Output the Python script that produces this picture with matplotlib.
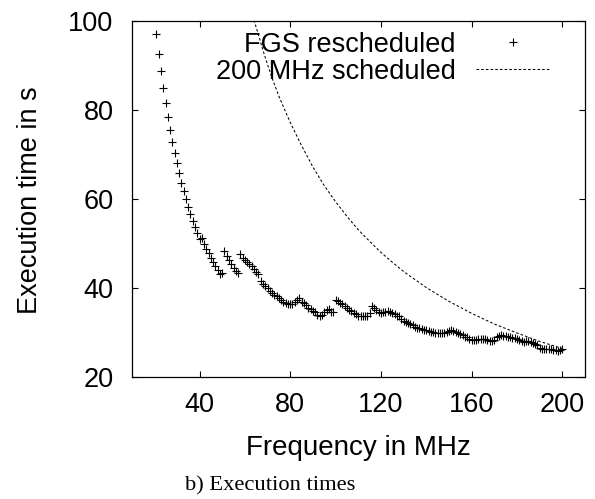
import numpy as np
import matplotlib
matplotlib.use("Agg")
import matplotlib.pyplot as plt

# ─── DATA ───────────────────────────────────────────────────────────────────
# FGS rescheduled: one point per MHz, 21..200
freq_fgs = np.arange(21, 201)
time_fgs = [
    97.1, 92.6, 88.8, 85.0, 81.6, 78.5, 75.5, 72.8, 70.3, 68.0,   # 21-30
    65.8, 63.7, 61.8, 60.0, 58.2, 56.6, 55.1, 53.6, 52.3, 51.0,   # 31-40
    51.3, 49.9, 48.8, 47.8, 46.8, 45.8, 44.9, 44.0, 43.2, 43.4,   # 41-50
    48.3, 47.3, 46.3, 45.4, 44.6, 43.8, 43.3, 47.6, 46.8, 46.3,   # 51-60
    45.9, 45.5, 45.0, 44.3, 43.7, 43.1, 41.6, 40.9, 40.4, 40.0,   # 61-70
    39.4, 38.9, 38.4, 38.1, 37.7, 37.3, 36.9, 36.6, 36.5, 36.3,   # 71-80
    36.5, 36.9, 37.4, 37.7, 36.9, 36.6, 36.2, 35.6, 35.2, 34.9,   # 81-90
    34.5, 34.0, 33.7, 33.9, 34.5, 35.0, 35.2, 34.7, 34.6, 37.4,   # 91-100
    37.1, 36.7, 36.3, 35.9, 35.4, 35.1, 34.8, 34.4, 34.1, 33.8,   # 101-110
    33.6, 33.6, 33.6, 33.8, 34.4, 36.0, 35.4, 35.1, 34.7, 34.3,   # 111-120
    34.5, 34.7, 34.8, 34.6, 34.4, 34.1, 33.8, 33.6, 33.1, 32.6,   # 121-130
    32.4, 32.1, 31.8, 31.6, 31.3, 31.0, 30.9, 30.7, 30.6, 30.5,   # 131-140
    30.3, 30.2, 30.1, 30.0, 29.8, 29.9, 30.0, 30.0, 30.1, 30.3,   # 141-150
    30.6, 30.4, 30.2, 29.8, 29.6, 29.4, 29.1, 28.9, 28.6, 28.3,   # 151-160
    28.3, 28.4, 28.5, 28.5, 28.5, 28.5, 28.3, 28.2, 28.2, 28.3,   # 161-170
    29.0, 29.2, 29.4, 29.3, 29.2, 29.1, 28.9, 28.8, 28.7, 28.5,   # 171-180
    28.3, 28.2, 27.9, 28.2, 28.0, 27.9, 27.7, 27.4, 27.1, 26.6,   # 181-190
    26.3, 26.2, 26.2, 26.2, 26.2, 26.1, 26.0, 25.8, 26.0, 26.2,   # 191-200
]

# 200 MHz scheduled (curve)
freq_sched = [64, 66, 68, 70, 72, 75, 80, 85, 90, 95, 100, 105, 110, 115,
              120, 125, 130, 140, 150, 160, 170, 180, 190, 200]
time_sched = [100.2, 96.9, 93.4, 90.2, 87.2, 83.1, 77.2, 72.0, 67.2, 63.0,
              59.4, 56.1, 53.1, 50.5, 48.0, 45.8, 43.7, 40.1, 37.0, 34.3,
              31.9, 29.9, 28.0, 26.4]

# ─── PLOT ───────────────────────────────────────────────────────────────────
plt.rcParams['font.family'] = ['Liberation Sans', 'DejaVu Sans']
fs = 19.5

fig = plt.figure(figsize=(5.95, 4.99), dpi=100)
ax = fig.add_axes([131.5 / 595, 1 - 377 / 499, (585 - 131.5) / 595, (377 - 21) / 499])

ax.plot(freq_fgs, time_fgs, linestyle='none', marker='+', markersize=5.5,
        markeredgewidth=0.8, color='black', label='FGS rescheduled')
ax.plot(freq_sched, time_sched, linestyle=(0, (2.5, 2)), linewidth=0.75,
        color='black', label='200 MHz scheduled')

ax.set_xlim(10, 210)
ax.set_ylim(20, 100)
ax.set_xticks([40, 80, 120, 160, 200])
ax.set_yticks([20, 40, 60, 80, 100])
ax.tick_params(direction='in', length=4, width=0.8, top=True, right=True,
               labelsize=fs)
ax.tick_params(axis='y', pad=13)
ax.tick_params(axis='x', pad=10.5)
for s in ax.spines.values():
    s.set_linewidth(0.9)

leg = ax.legend(loc='upper right', frameon=False, fontsize=fs, markerfirst=False,
                handlelength=2.75, handletextpad=0.75, labelspacing=0.04,
                borderaxespad=0.2, borderpad=0.2, bbox_to_anchor=(0.948, 1.0))

fig.text(30 / 595, 1 - 200 / 499, 'Execution time in s', rotation=90,
         ha='center', va='center', fontsize=fs)
fig.text(358 / 595, 1 - 448 / 499, 'Frequency in MHz', ha='center',
         va='center', fontsize=fs + 0.5)
fig.text(270 / 595, 1 - 486 / 499, 'b) Execution times', ha='center',
         va='center', fontsize=16.2, family=['Liberation Serif', 'DejaVu Serif'])

fig.savefig('out.png', dpi=100)
